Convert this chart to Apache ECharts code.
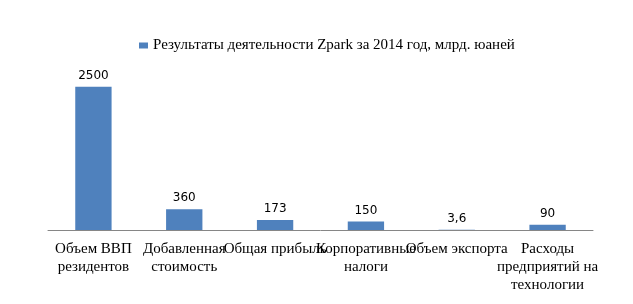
<!DOCTYPE html>
<html><head><meta charset="utf-8">
<script src="https://cdn.jsdelivr.net/npm/echarts@6/dist/echarts.min.js"></script>
<style>html,body{margin:0;padding:0;background:#fff}#c{width:633px;height:304px}</style>
</head><body><div id="c"></div>
<script>
var categories = ['Объем ВВП\nрезидентов', 'Добавленная\nстоимость', 'Общая прибыль', 'Корпоративные\nналоги', 'Объем экспорта', 'Расходы\nпредприятий на\nтехнологии'];
var values = [2500, 360, 173, 150, 3.6, 90];
var valueLabels = ['2500', '360', '173', '150', '3,6', '90'];
var seriesName = 'Результаты деятельности Zpark за 2014 год, млрд. юаней';

var chart = echarts.init(document.getElementById('c'));
chart.setOption({
  animation: false,
  legend: {
    left: 134, top: 33,
    itemWidth: 9, itemHeight: 6, itemGap: 5,
    icon: 'rect',
    textStyle: { fontFamily: 'Liberation Serif', fontSize: 15, color: '#000' },
    data: [seriesName]
  },
  grid: { left: 48, right: 40, top: 58, bottom: 74 },
  xAxis: {
    type: 'category',
    data: categories,
    axisLine: { lineStyle: { color: '#868686', width: 1 } },
    axisTick: { show: false },
    axisLabel: {
      interval: 0, margin: 10,
      fontFamily: 'Liberation Serif', fontSize: 15, color: '#000', lineHeight: 18
    }
  },
  yAxis: { type: 'value', min: 0, max: 3000, show: false, splitLine: { show: false } },
  series: [{
    name: seriesName,
    type: 'bar',
    data: values,
    barWidth: '40%',
    itemStyle: { color: '#4F81BD' },
    label: {
      show: true, position: 'top', distance: 5,
      fontFamily: 'DejaVu Sans', fontSize: 12, color: '#000',
      formatter: function (p) { return valueLabels[p.dataIndex]; }
    }
  }]
});
</script></body></html>
